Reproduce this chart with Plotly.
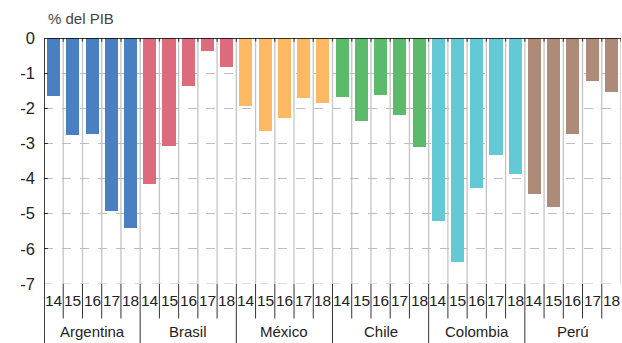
import plotly.graph_objects as go

countries = ["Argentina", "Brasil", "México", "Chile", "Colombia", "Perú"]
years = ["14", "15", "16", "17", "18"]
colors = ["#4a7fc1", "#dc6b7c", "#fdb863", "#5cbb6b", "#63c9d5", "#ae8a78"]
argentina = [-1.65, -2.76, -2.72, -4.92, -5.41]
brasil = [-4.15, -3.07, -1.36, -0.37, -0.83]
mexico = [-1.93, -2.65, -2.28, -1.71, -1.84]
chile = [-1.68, -2.36, -1.62, -2.19, -3.10]
colombia = [-5.21, -6.37, -4.27, -3.33, -3.87]
peru = [-4.44, -4.81, -2.73, -1.22, -1.54]
series = [argentina, brasil, mexico, chile, colombia, peru]
y_ticks = [0, -1, -2, -3, -4, -5, -6, -7]
y_label = "% del PIB"

FONT = "Liberation Sans, Arial, Helvetica, sans-serif"
n = len(years)
fig = go.Figure()
for ci, (c, vals) in enumerate(zip(countries, series)):
    xs = [ci * n + j + 0.5 for j in range(n)]
    fig.add_trace(go.Bar(x=xs, y=vals, marker=dict(color=colors[ci], line=dict(width=0)),
                         width=0.68, name=c, showlegend=False))

shapes = []
total = n * len(countries)
for k in range(1, total + 1):
    shapes.append(dict(type="line", xref="x", yref="paper", x0=k, x1=k, y0=0, y1=1,
                       line=dict(color="#c4c4c4", width=1.3), layer="below"))
    shapes.append(dict(type="line", xref="x", yref="paper", x0=k, x1=k, y0=1, y1=0.985,
                       line=dict(color="#555555", width=1.3), layer="above"))
for k in range(1, total):
    y0 = -0.245 if k % n == 0 else -0.14
    shapes.append(dict(type="line", xref="x", yref="paper", x0=k, x1=k, y0=0, y1=y0,
                       line=dict(color="#333333", width=1)))
# bottom dashed gridline at the lowest tick
shapes.append(dict(type="line", xref="paper", yref="y", x0=0, x1=1, y0=min(y_ticks), y1=min(y_ticks),
                   line=dict(color="#bdbdbd", width=1.2, dash="dash"), layer="below"))
shapes.append(dict(type="line", xref="x", yref="paper", x0=0, x1=0, y0=1, y1=-0.245,
                   line=dict(color="#000000", width=1.5)))
shapes.append(dict(type="line", xref="paper", yref="y", x0=0, x1=1, y0=0, y1=0,
                   line=dict(color="#000000", width=1.5)))

annotations = []
for ci, c in enumerate(countries):
    for j, yr in enumerate(years):
        annotations.append(dict(x=ci * n + j + 0.5, y=-0.066, xref="x", yref="paper", text=yr,
                                yanchor="middle", showarrow=False,
                                font=dict(size=15.5, color="#222222", family=FONT)))
    annotations.append(dict(x=ci * n + n / 2, y=-0.195, xref="x", yref="paper", text=c,
                            yanchor="middle", showarrow=False,
                            font=dict(size=15, color="#222222", family=FONT)))
annotations.append(dict(x=0.003, y=1.08, xref="paper", yref="paper", text=y_label, showarrow=False,
                        xanchor="left", yanchor="middle", font=dict(size=15, color="#444444", family=FONT)))

fig.update_layout(
    width=622, height=343,
    margin=dict(l=44, r=1, t=38, b=59),
    paper_bgcolor="white", plot_bgcolor="white",
    bargap=0,
    shapes=shapes, annotations=annotations,
    xaxis=dict(range=[0, total], showticklabels=False, showgrid=False, zeroline=False, fixedrange=True),
    yaxis=dict(range=[-7, 0], tickvals=y_ticks, ticktext=[str(v) for v in y_ticks],
               showgrid=True, gridcolor="#bdbdbd", griddash="dash", gridwidth=1.2,
               zeroline=False, ticks="inside", ticklen=4, tickcolor="#333",
               tickfont=dict(size=16.5, color="#222222", family=FONT), ticklabelstandoff=8),
    font=dict(family=FONT),
)
fig.write_html("out.html")
